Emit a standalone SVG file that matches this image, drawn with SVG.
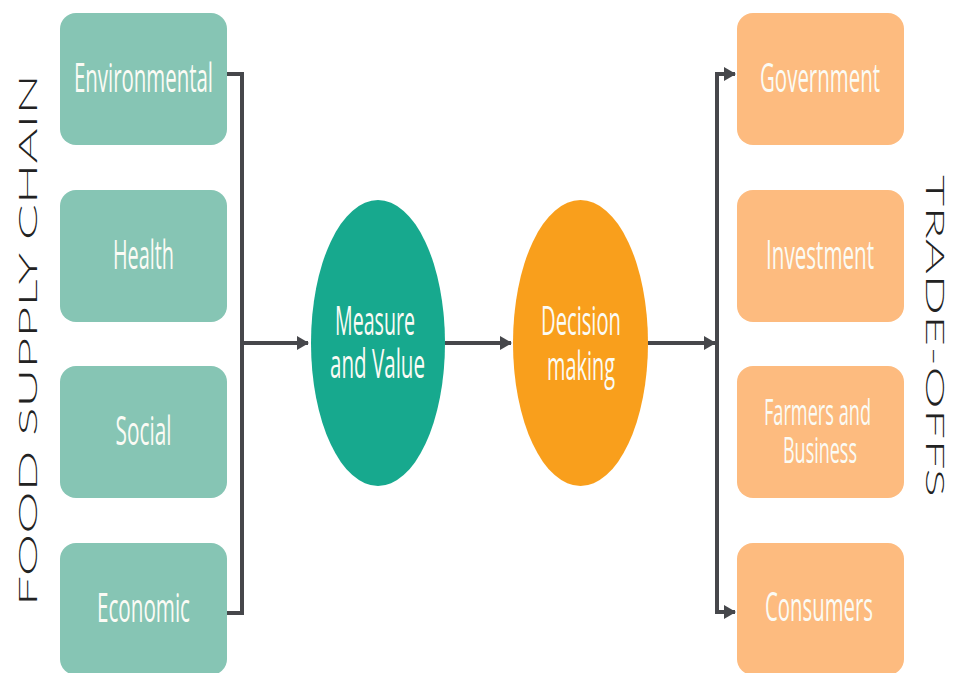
<svg xmlns="http://www.w3.org/2000/svg" width="954" height="673" viewBox="0 0 954 673">
<style>
.lbox{fill:#86c5b4}
.rbox{fill:#fdbb7f}
.t{font-family:"Open Sans","Liberation Sans",sans-serif;font-size:22px;fill:#fbfbf5;text-anchor:middle}
.t2{font-family:"Open Sans","Liberation Sans",sans-serif;font-size:19.5px;fill:#fbfbf5;text-anchor:middle}
.side{font-family:"Lato","DejaVu Sans",sans-serif;font-weight:300;font-size:26px;fill:#222;text-anchor:middle}
.c{fill:none;stroke:#46474b;stroke-width:4}
</style>
<defs>
<marker id="ah" markerWidth="12" markerHeight="14" refX="11" refY="7" orient="auto" markerUnits="userSpaceOnUse">
<path d="M0,0 L12,7 L0,14 Z" fill="#46474b"/>
</marker>
</defs>
<rect width="954" height="673" fill="#fff"/>
<g id="connectors">
<path class="c" d="M227,74 H242 V613 H227"/>
<path class="c" d="M242,343 H308" marker-end="url(#ah)"/>
<path class="c" d="M445,343 H511" marker-end="url(#ah)"/>
<path class="c" d="M648,343 H715" marker-end="url(#ah)"/>
<path class="c" d="M717,74 V612"/>
<path class="c" d="M715,74 H735" marker-end="url(#ah)"/>
<path class="c" d="M715,612 H735" marker-end="url(#ah)"/>
</g>
<g id="environmental"><rect class="lbox" x="60" y="13" width="167" height="132" rx="16"/><text class="t" transform="translate(143.5,92) scale(1,1.85)" textLength="139" lengthAdjust="spacingAndGlyphs">Environmental</text></g>
<g id="health"><rect class="lbox" x="60" y="190" width="167" height="132" rx="16"/><text class="t" transform="translate(143.5,269) scale(1,1.85)" textLength="61" lengthAdjust="spacingAndGlyphs">Health</text></g>
<g id="social"><rect class="lbox" x="60" y="366" width="167" height="132" rx="16"/><text class="t" transform="translate(143.5,445) scale(1,1.85)" textLength="56" lengthAdjust="spacingAndGlyphs">Social</text></g>
<g id="economic"><rect class="lbox" x="60" y="543" width="167" height="132" rx="16"/><text class="t" transform="translate(143.5,622) scale(1,1.85)" textLength="93" lengthAdjust="spacingAndGlyphs">Economic</text></g>
<g id="measure"><ellipse cx="378" cy="343" rx="67" ry="143" fill="#17a98e"/><text class="t" transform="scale(1,1.85)"><tspan x="375" y="181.08" textLength="80" lengthAdjust="spacingAndGlyphs">Measure</tspan><tspan x="377.5" y="204.32" textLength="95" lengthAdjust="spacingAndGlyphs">and Value</tspan></text></g>
<g id="decision"><ellipse cx="580.5" cy="343" rx="67.5" ry="143" fill="#f99f1c"/><text class="t" transform="scale(1,1.85)"><tspan x="581" y="181.08" textLength="80" lengthAdjust="spacingAndGlyphs">Decision</tspan><tspan x="581" y="205.41" textLength="68" lengthAdjust="spacingAndGlyphs">making</tspan></text></g>
<g id="government"><rect class="rbox" x="737" y="13" width="167" height="132" rx="16"/><text class="t" transform="translate(820,92) scale(1,1.85)" textLength="120" lengthAdjust="spacingAndGlyphs">Government</text></g>
<g id="investment"><rect class="rbox" x="737" y="190" width="167" height="132" rx="16"/><text class="t" transform="translate(820,269) scale(1,1.85)" textLength="108" lengthAdjust="spacingAndGlyphs">Investment</text></g>
<g id="farmers"><rect class="rbox" x="737" y="366" width="167" height="132" rx="16"/><text class="t2" transform="scale(1,1.85)"><tspan x="817.5" y="229.73" textLength="107" lengthAdjust="spacingAndGlyphs">Farmers and</tspan><tspan x="820" y="250.27" textLength="74" lengthAdjust="spacingAndGlyphs">Business</tspan></text></g>
<g id="consumers"><rect class="rbox" x="737" y="543" width="167" height="132" rx="16"/><text class="t" transform="translate(819,621) scale(1,1.85)" textLength="108" lengthAdjust="spacingAndGlyphs">Consumers</text></g>
<text class="side" transform="translate(37,340) rotate(-90)" textLength="532" lengthAdjust="spacingAndGlyphs">FOOD SUPPLY CHAIN</text>
<text class="side" transform="translate(926,336) rotate(90)" textLength="322" lengthAdjust="spacingAndGlyphs">TRADE-OFFS</text>
</svg>
